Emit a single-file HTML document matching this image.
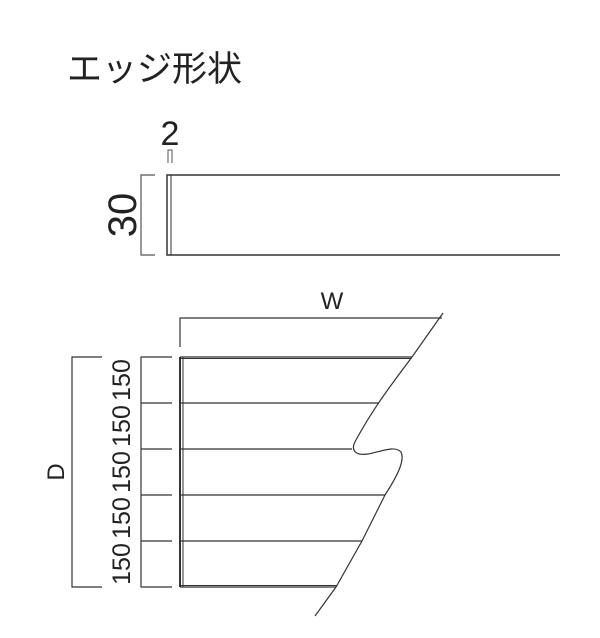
<!DOCTYPE html>
<html><head><meta charset="utf-8"><style>
html,body{margin:0;padding:0;background:#fff;}
svg{display:block}
text{font-family:"Liberation Sans","Noto Sans CJK JP",sans-serif;fill:#222}
</style></head><body>
<svg width="600" height="638" viewBox="0 0 600 638" xmlns="http://www.w3.org/2000/svg">
<text x="67" y="81" font-size="35" font-family="'Noto Sans CJK JP',sans-serif">エッジ形状</text>
<text x="170" y="145" font-size="34" text-anchor="middle">2</text>
<path d="M168 163 V150 H172 V163" fill="none" stroke="#555" stroke-width="1"/>
<text transform="translate(136,215) rotate(-90)" font-size="40" text-anchor="middle">30</text>
<path d="M155 175 H141 V255 H155" fill="none" stroke="#555" stroke-width="1.2"/>
<g fill="none" stroke="#333" stroke-width="1.5">
<path d="M560 175 H167 V255 H560"/>
<path d="M171 175 V255" stroke-width="1"/>
</g>
<text x="332" y="309" font-size="24" text-anchor="middle">W</text>
<path d="M180 347 V318 H442" fill="none" stroke="#333" stroke-width="1.2"/>
<g fill="none" stroke="#333" stroke-width="1.2">
<path d="M102 357 H72 V587 H102"/>
<path d="M172 357 H141 V587 H172"/>
<path d="M141 403 H172 M141 449 H172 M141 495 H172 M141 541 H172"/>
</g>
<text transform="translate(64,472) rotate(-90)" font-size="24" text-anchor="middle">D</text>
<g font-size="25" text-anchor="middle">
<text transform="translate(130,380) rotate(-90)">150</text>
<text transform="translate(130,426) rotate(-90)">150</text>
<text transform="translate(130,472) rotate(-90)">150</text>
<text transform="translate(130,518) rotate(-90)">150</text>
<text transform="translate(130,564) rotate(-90)">150</text>
</g>
<g fill="none" stroke="#333" stroke-width="1.2">
<path d="M180 357 H412 M180 403 H379 M180 449 H352 M180 495 H385 M180 541 H362 M180 587 H336" />
<path d="M180 357 V587" stroke-width="2"/>
<path d="M183 357 V587" stroke-width="1"/>
<path d="M180 358.5 H411" stroke-width="1"/>
<path d="M180 585.5 H337" stroke-width="1"/>
<path d="M443 313 L412 357 C395 380 375 405 356 440 C350 450 355 456 368 454 C380 452 395 445 401 452 C405 460 398 475 385 495 L362 541 L336 587 L315 616"/>
</g>
</svg>
</body></html>
